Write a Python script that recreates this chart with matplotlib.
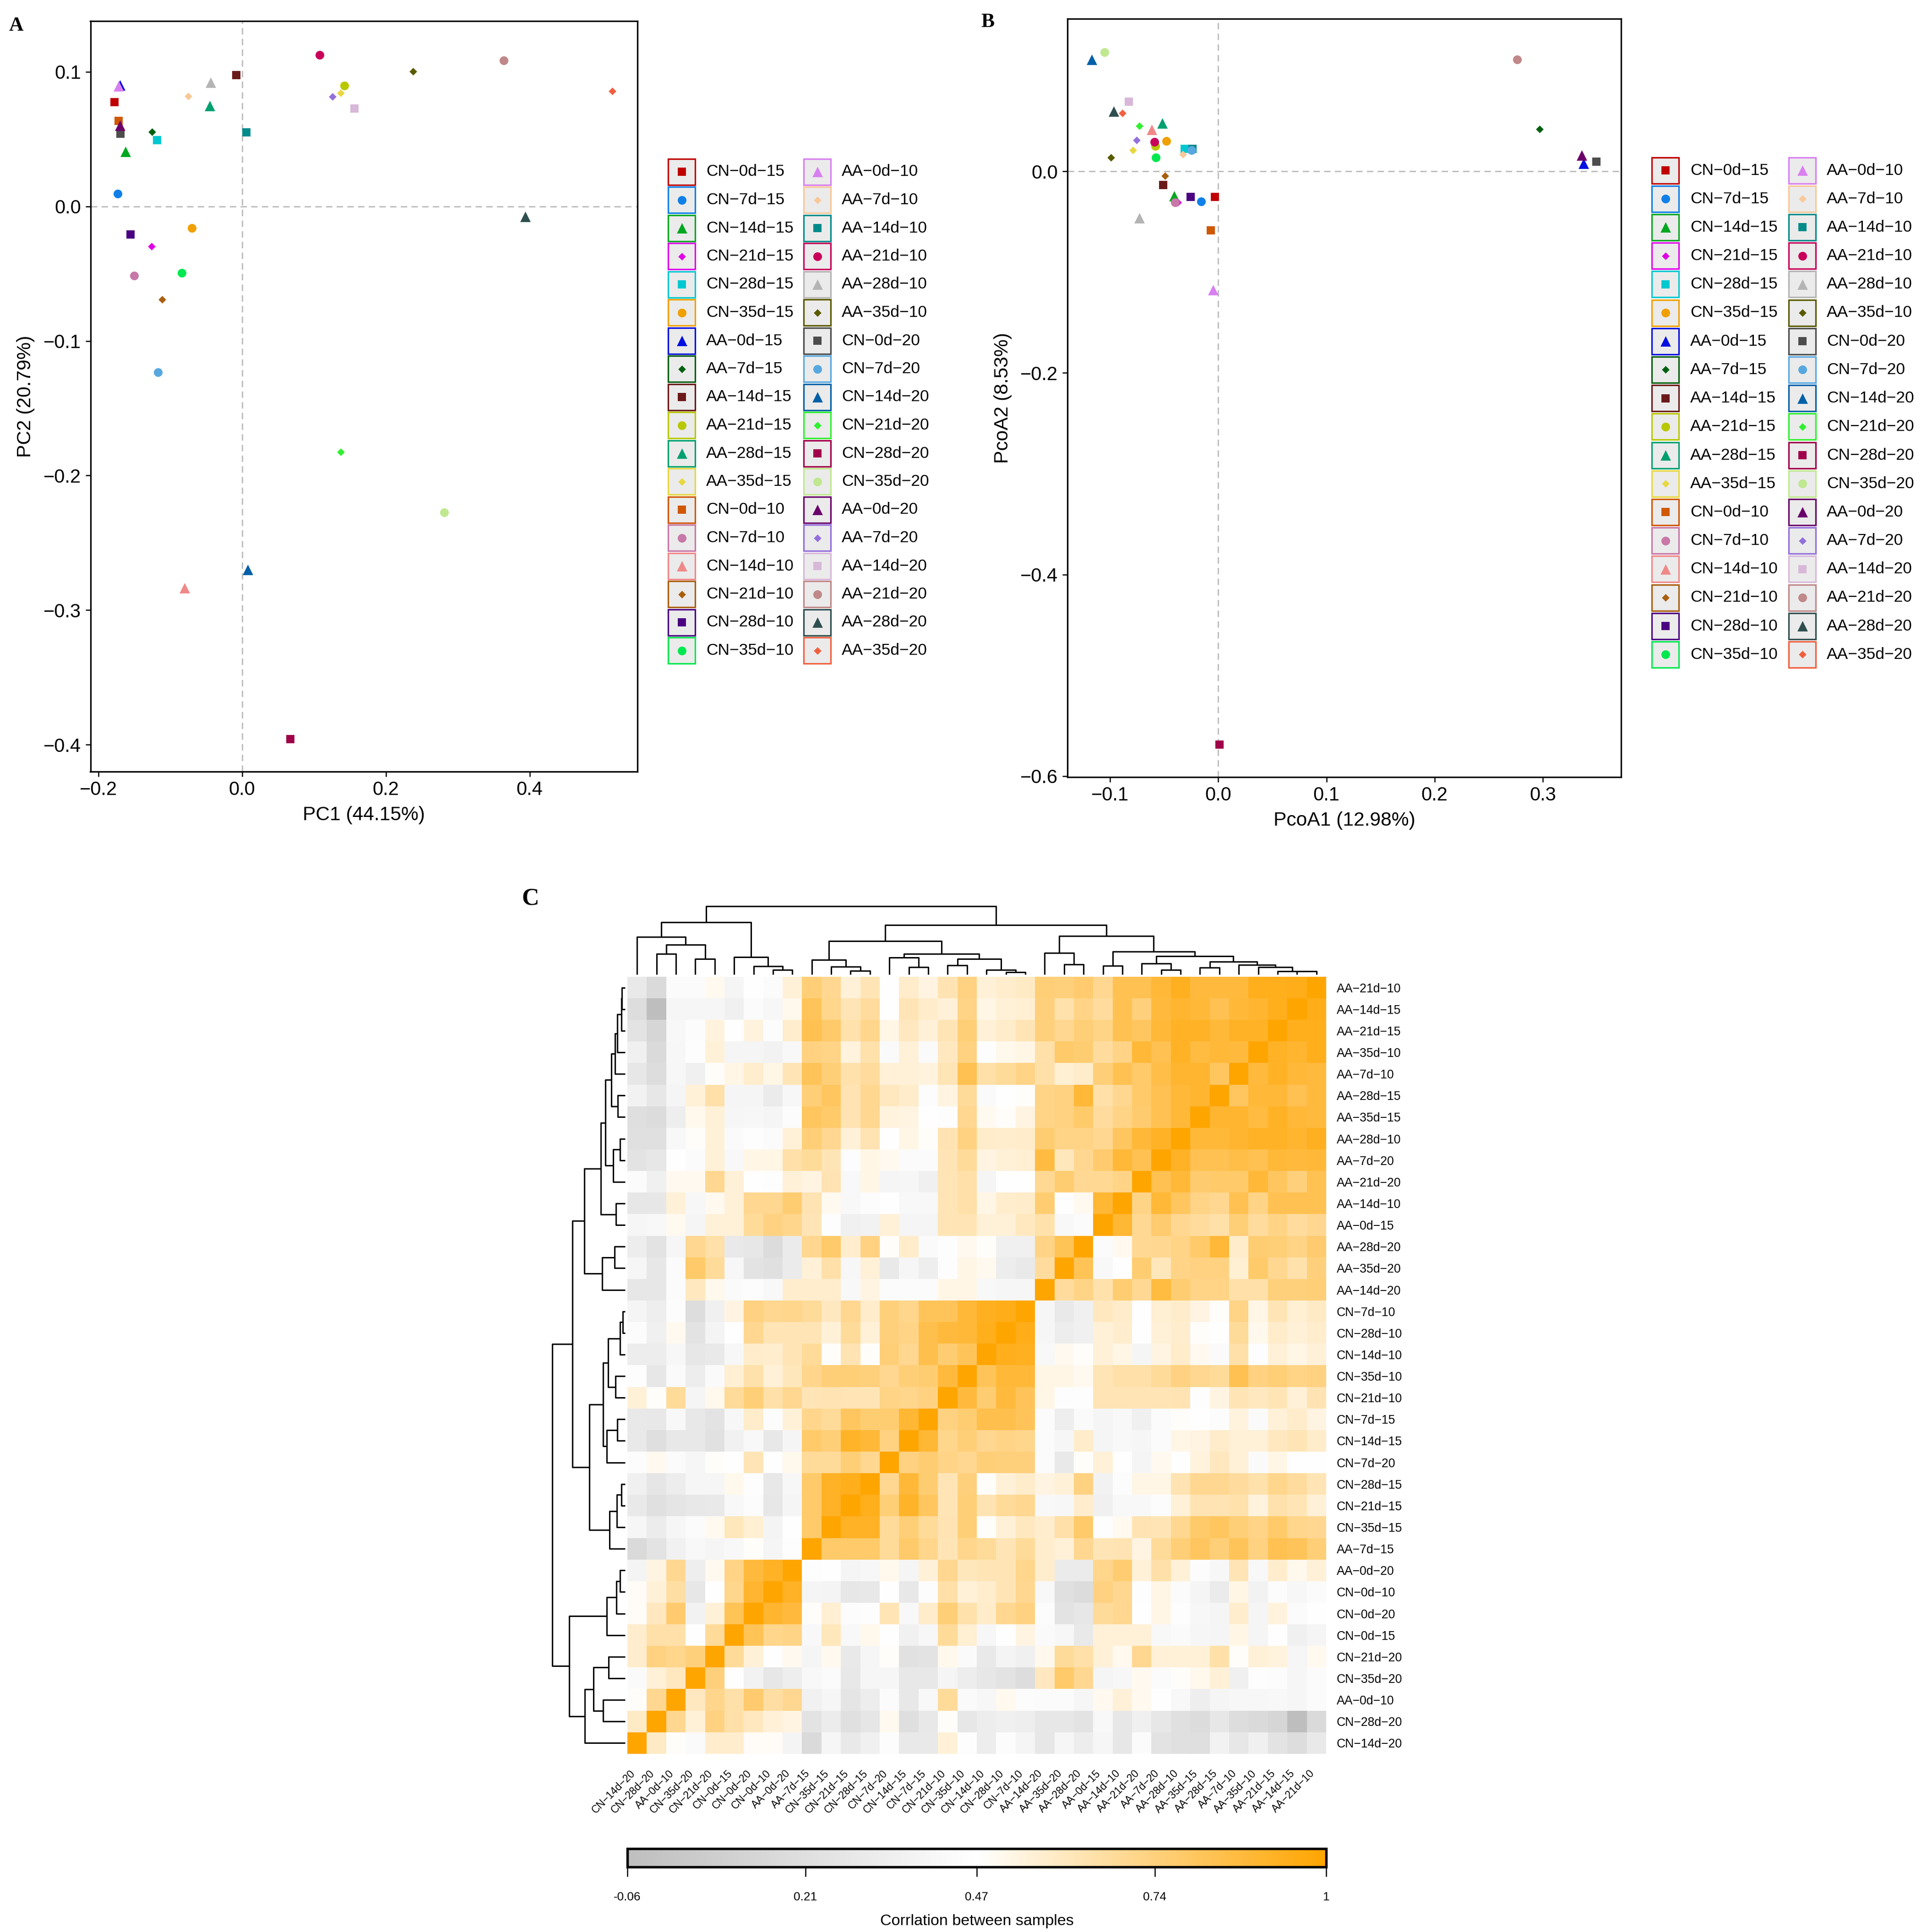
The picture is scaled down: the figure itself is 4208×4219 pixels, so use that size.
import numpy as np
import matplotlib
matplotlib.use("Agg")
import matplotlib.pyplot as plt
from matplotlib.colors import LinearSegmentedColormap, Normalize
from matplotlib.cm import ScalarMappable
from matplotlib.patches import Rectangle

plt.rcParams['font.family'] = ['Liberation Sans', 'DejaVu Sans']

# ---------------- data ----------------
samples = ['CN-0d-15', 'CN-7d-15', 'CN-14d-15', 'CN-21d-15', 'CN-28d-15', 'CN-35d-15',
           'AA-0d-15', 'AA-7d-15', 'AA-14d-15', 'AA-21d-15', 'AA-28d-15', 'AA-35d-15',
           'CN-0d-10', 'CN-7d-10', 'CN-14d-10', 'CN-21d-10', 'CN-28d-10', 'CN-35d-10',
           'AA-0d-10', 'AA-7d-10', 'AA-14d-10', 'AA-21d-10', 'AA-28d-10', 'AA-35d-10',
           'CN-0d-20', 'CN-7d-20', 'CN-14d-20', 'CN-21d-20', 'CN-28d-20', 'CN-35d-20',
           'AA-0d-20', 'AA-7d-20', 'AA-14d-20', 'AA-21d-20', 'AA-28d-20', 'AA-35d-20']

sample_colors = ['#C00000', '#1080E8', '#00A820', '#E000E8', '#00C8D0', '#F0A000',
                 '#0010E0', '#006010', '#6B1A1A', '#B8C800', '#00A070', '#E8D840',
                 '#D05800', '#C878A8', '#F08888', '#A86010', '#4B0082', '#00E850',
                 '#D880F0', '#F8C898', '#008B8B', '#C8005A', '#B4B4B4', '#5A5A00',
                 '#4D4D4D', '#58A8E0', '#0060A8', '#30F030', '#A0004A', '#C0E890',
                 '#6A006A', '#9370DB', '#D8B8D8', '#C08888', '#2F4F4F', '#F06040']

shape_cycle = ['s', 'o', '^', 'D']

pc1 = [-0.1775, -0.173, -0.162, -0.126, -0.118, -0.070,
       -0.170, -0.125, -0.008, 0.142, -0.045, 0.137,
       -0.172, -0.150, -0.080, -0.111, -0.155, -0.084,
       -0.172, -0.075, 0.006, 0.108, -0.044, 0.238,
       -0.169, -0.117, 0.008, 0.137, 0.067, 0.281,
       -0.170, 0.126, 0.156, 0.364, 0.394, 0.515]
pc2 = [0.0775, 0.0095, 0.0407, -0.0296, 0.0494, -0.0162,
       0.090, 0.0553, 0.0976, 0.0897, 0.0747, 0.0842,
       0.0636, -0.0514, -0.2834, -0.0692, -0.0209, -0.0494,
       0.0893, 0.0818, 0.0549, 0.1126, 0.0921, 0.1004,
       0.0541, -0.1233, -0.270, -0.1826, -0.396, -0.2273,
       0.060, 0.0814, 0.0727, 0.1083, -0.0075, 0.0858]

pcoa1 = [-0.003, -0.0157, -0.041, -0.0376, -0.031, -0.0482,
         0.3376, 0.2973, -0.051, -0.0584, -0.0518, -0.0788,
         -0.0071, -0.040, -0.0616, -0.0494, -0.0255, -0.0576,
         -0.0047, -0.0329, -0.0239, -0.0592, -0.0729, -0.0992,
         0.3498, -0.0247, -0.1169, -0.0729, 0.0012, -0.1051,
         0.3361, -0.0757, -0.0827, 0.2765, -0.0969, -0.0886]
pcoa2 = [-0.0253, -0.030, -0.0243, -0.031, 0.0222, 0.030,
         0.0079, 0.0417, -0.0137, 0.0248, 0.0475, 0.0211,
         -0.0586, -0.031, 0.0412, -0.0047, -0.0253, 0.0137,
         -0.1177, 0.0169, 0.0222, 0.029, -0.0464, 0.0137,
         0.0095, 0.0211, 0.1108, 0.0449, -0.5689, 0.1182,
         0.0158, 0.0311, 0.0691, 0.1108, 0.0596, 0.0575]

# heatmap: leaf order of the clustering (left->right columns, bottom->top rows)
leaf_order = ['CN-14d-20', 'CN-28d-20', 'AA-0d-10', 'CN-35d-20', 'CN-21d-20', 'CN-0d-15',
              'CN-0d-20', 'CN-0d-10', 'AA-0d-20', 'AA-7d-15', 'CN-35d-15', 'CN-21d-15',
              'CN-28d-15', 'CN-7d-20', 'CN-14d-15', 'CN-7d-15', 'CN-21d-10', 'CN-35d-10',
              'CN-14d-10', 'CN-28d-10', 'CN-7d-10', 'AA-14d-20', 'AA-35d-20', 'AA-28d-20',
              'AA-0d-15', 'AA-14d-10', 'AA-21d-20', 'AA-7d-20', 'AA-28d-10', 'AA-35d-15',
              'AA-28d-15', 'AA-7d-10', 'AA-35d-10', 'AA-21d-15', 'AA-14d-15', 'AA-21d-10']

# lower triangle of the correlation matrix (row i: correlations with leaves 0..i-1)
corr_lower = [
    [],
    [0.59],
    [0.48, 0.70],
    [0.43, 0.55, 0.60],
    [0.57, 0.73, 0.71, 0.74],
    [0.57, 0.65, 0.65, 0.47, 0.68],
    [0.49, 0.60, 0.77, 0.37, 0.55, 0.82],
    [0.49, 0.55, 0.66, 0.28, 0.47, 0.71, 0.90],
    [0.38, 0.53, 0.70, 0.34, 0.50, 0.72, 0.87, 0.92],
    [0.17, 0.25, 0.36, 0.42, 0.39, 0.42, 0.48, 0.39, 0.46],
    [0.40, 0.32, 0.40, 0.44, 0.50, 0.61, 0.56, 0.38, 0.47, 0.78],
    [0.30, 0.22, 0.26, 0.29, 0.30, 0.42, 0.45, 0.28, 0.39, 0.78, 0.92],
    [0.35, 0.27, 0.33, 0.40, 0.40, 0.51, 0.46, 0.29, 0.41, 0.78, 0.92, 0.94],
    [0.45, 0.50, 0.44, 0.40, 0.48, 0.47, 0.62, 0.47, 0.51, 0.68, 0.68, 0.75, 0.70],
    [0.30, 0.21, 0.29, 0.29, 0.23, 0.36, 0.42, 0.29, 0.39, 0.78, 0.75, 0.91, 0.88, 0.73],
    [0.30, 0.29, 0.42, 0.29, 0.25, 0.41, 0.58, 0.45, 0.55, 0.71, 0.68, 0.80, 0.76, 0.76, 0.89],
    [0.55, 0.48, 0.68, 0.39, 0.51, 0.68, 0.75, 0.65, 0.70, 0.62, 0.63, 0.62, 0.62, 0.72, 0.71, 0.73],
    [0.46, 0.28, 0.43, 0.33, 0.43, 0.56, 0.64, 0.55, 0.61, 0.71, 0.75, 0.75, 0.74, 0.70, 0.75, 0.76, 0.87],
    [0.33, 0.33, 0.41, 0.28, 0.30, 0.41, 0.58, 0.57, 0.62, 0.68, 0.48, 0.63, 0.48, 0.75, 0.70, 0.84, 0.76, 0.81],
    [0.45, 0.35, 0.50, 0.25, 0.38, 0.47, 0.70, 0.62, 0.62, 0.62, 0.55, 0.68, 0.55, 0.74, 0.72, 0.84, 0.87, 0.88,
     0.94],
    [0.39, 0.34, 0.45, 0.20, 0.35, 0.53, 0.73, 0.70, 0.71, 0.68, 0.60, 0.70, 0.58, 0.74, 0.71, 0.81, 0.81, 0.88,
     0.93, 0.95],
    [0.28, 0.28, 0.44, 0.60, 0.51, 0.43, 0.45, 0.42, 0.57, 0.57, 0.57, 0.42, 0.53, 0.44, 0.44, 0.44, 0.52, 0.52,
     0.42, 0.40, 0.40],
    [0.40, 0.28, 0.44, 0.78, 0.68, 0.41, 0.25, 0.22, 0.31, 0.55, 0.65, 0.41, 0.55, 0.30, 0.40, 0.34, 0.46, 0.52,
     0.50, 0.33, 0.30, 0.67],
    [0.33, 0.25, 0.40, 0.70, 0.65, 0.30, 0.28, 0.19, 0.31, 0.70, 0.78, 0.57, 0.73, 0.48, 0.58, 0.43, 0.46, 0.50,
     0.48, 0.35, 0.35, 0.72, 0.82],
    [0.40, 0.42, 0.50, 0.39, 0.55, 0.55, 0.68, 0.73, 0.71, 0.62, 0.46, 0.35, 0.37, 0.55, 0.39, 0.39, 0.62, 0.62,
     0.55, 0.55, 0.60, 0.64, 0.42, 0.44],
    [0.28, 0.28, 0.55, 0.41, 0.50, 0.55, 0.70, 0.70, 0.76, 0.63, 0.50, 0.42, 0.45, 0.47, 0.42, 0.42, 0.62, 0.65,
     0.52, 0.57, 0.58, 0.76, 0.47, 0.50, 0.89],
    [0.44, 0.35, 0.50, 0.50, 0.70, 0.55, 0.47, 0.46, 0.55, 0.53, 0.63, 0.42, 0.52, 0.39, 0.40, 0.35, 0.62, 0.65,
     0.39, 0.47, 0.47, 0.69, 0.76, 0.69, 0.69, 0.72],
    [0.25, 0.28, 0.47, 0.44, 0.55, 0.42, 0.52, 0.52, 0.65, 0.68, 0.62, 0.45, 0.52, 0.50, 0.44, 0.44, 0.62, 0.68,
     0.53, 0.55, 0.56, 0.86, 0.61, 0.70, 0.77, 0.88, 0.83],
    [0.22, 0.22, 0.42, 0.48, 0.55, 0.43, 0.46, 0.44, 0.55, 0.75, 0.70, 0.55, 0.63, 0.47, 0.52, 0.48, 0.63, 0.73,
     0.58, 0.57, 0.58, 0.76, 0.72, 0.72, 0.70, 0.80, 0.88, 0.92],
    [0.21, 0.19, 0.34, 0.51, 0.55, 0.40, 0.41, 0.39, 0.45, 0.80, 0.78, 0.63, 0.70, 0.54, 0.53, 0.47, 0.46, 0.70,
     0.50, 0.48, 0.53, 0.72, 0.73, 0.78, 0.67, 0.72, 0.77, 0.83, 0.88],
    [0.37, 0.28, 0.39, 0.55, 0.65, 0.39, 0.39, 0.31, 0.41, 0.75, 0.80, 0.63, 0.70, 0.60, 0.58, 0.45, 0.53, 0.68,
     0.43, 0.47, 0.48, 0.72, 0.73, 0.88, 0.65, 0.70, 0.78, 0.83, 0.88, 0.90],
    [0.28, 0.20, 0.41, 0.35, 0.48, 0.52, 0.57, 0.52, 0.62, 0.81, 0.75, 0.64, 0.67, 0.55, 0.55, 0.54, 0.62, 0.83,
     0.65, 0.68, 0.72, 0.65, 0.56, 0.58, 0.75, 0.83, 0.78, 0.85, 0.90, 0.90, 0.80],
    [0.35, 0.17, 0.41, 0.46, 0.55, 0.39, 0.39, 0.37, 0.42, 0.73, 0.72, 0.54, 0.64, 0.43, 0.55, 0.43, 0.60, 0.73,
     0.46, 0.51, 0.52, 0.65, 0.78, 0.76, 0.67, 0.72, 0.88, 0.83, 0.92, 0.86, 0.88, 0.87],
    [0.25, 0.14, 0.42, 0.45, 0.54, 0.47, 0.54, 0.45, 0.57, 0.83, 0.78, 0.64, 0.71, 0.52, 0.60, 0.55, 0.62, 0.75,
     0.55, 0.58, 0.62, 0.74, 0.70, 0.75, 0.72, 0.83, 0.80, 0.88, 0.92, 0.92, 0.88, 0.92, 0.92],
    [0.20, -0.06, 0.40, 0.40, 0.40, 0.35, 0.44, 0.41, 0.51, 0.81, 0.71, 0.62, 0.67, 0.47, 0.62, 0.58, 0.55, 0.72,
     0.52, 0.55, 0.56, 0.74, 0.64, 0.72, 0.67, 0.83, 0.74, 0.87, 0.90, 0.88, 0.83, 0.88, 0.90, 0.94],
    [0.30, 0.17, 0.44, 0.44, 0.50, 0.39, 0.47, 0.44, 0.55, 0.75, 0.70, 0.55, 0.62, 0.47, 0.58, 0.53, 0.63, 0.73,
     0.55, 0.57, 0.59, 0.75, 0.74, 0.77, 0.70, 0.83, 0.83, 0.88, 0.93, 0.87, 0.87, 0.87, 0.94, 0.94, 0.95],
]

# hierarchical merges (child a, child b, height); ids >= 36 are earlier merges
merges = [(1, 2, 135), (3, 4, 102), (36, 37, 195), (0, 38, 247), (7, 8, 30), (6, 40, 53),
          (5, 41, 114), (39, 42, 343), (11, 12, 23), (10, 44, 52), (9, 45, 95), (14, 15, 49),
          (13, 47, 112), (16, 17, 60), (19, 20, 14), (18, 50, 30), (49, 51, 103), (48, 52, 135),
          (46, 53, 220), (22, 23, 66), (21, 55, 142), (24, 25, 57), (27, 28, 30), (26, 58, 72),
          (29, 30, 45), (34, 35, 20), (33, 61, 22), (32, 62, 47), (31, 63, 62), (60, 64, 85),
          (59, 65, 120), (57, 66, 150), (56, 67, 252), (54, 68, 325), (43, 69, 448)]

cbar_ticks = [-0.06, 0.21, 0.47, 0.74, 1.0]
cbar_ticklabels = ['-0.06', '0.21', '0.47', '0.74', '1']

# ---------------- figure ----------------
W, H = 4208, 4219
DPI = 300
fig = plt.figure(figsize=(W / DPI, H / DPI), dpi=DPI, facecolor='white')


def px_axes(x0, y0, x1, y1):
    return fig.add_axes([x0 / W, 1 - y1 / H, (x1 - x0) / W, (y1 - y0) / H])


def disp(s):
    return s.replace('-', '\u2212')


msize = {'s': 18, 'o': 21, '^': 30, 'D': 8}


def fmt(v):
    s = '%.1f' % v
    return s.replace('-', '\u2212')


def scatter_panel(box, xs, ys, xlim, ylim, xticks, yticks, xlabel, ylabel, ylabpad):
    ax = px_axes(*box)
    dash = dict(color='#BDBDBD', lw=0.7, dashes=(4.8, 3.2), zorder=1)
    ax.axhline(0, **dash)
    ax.axvline(0, **dash)
    for i in range(len(samples)):
        m = shape_cycle[i % 4]
        ax.scatter(xs[i], ys[i], marker=m, s=msize[m], color=sample_colors[i],
                   linewidths=0, zorder=3)
    ax.set_xlim(xlim)
    ax.set_ylim(ylim)
    ax.set_xticks(xticks)
    ax.set_xticklabels([fmt(v) for v in xticks])
    ax.set_yticks(yticks)
    ax.set_yticklabels([fmt(v) for v in yticks])
    for s in ax.spines.values():
        s.set_linewidth(0.8)
    ax.tick_params(direction='out', length=2.7, width=0.6, labelsize=10,
                   pad=2.2, colors='black')
    ax.set_xlabel(xlabel, fontsize=10.2, labelpad=3.5)
    ax.set_ylabel(ylabel, fontsize=10.2, labelpad=ylabpad)
    return ax


scatter_panel((197.5, 46, 1392, 1685), pc1, pc2, (-0.211, 0.550), (-0.420, 0.1377),
              [-0.2, 0.0, 0.2, 0.4], [-0.4, -0.3, -0.2, -0.1, 0.0, 0.1],
              'PC1 (44.15%)', 'PC2 (20.79%)', 4.5)
scatter_panel((2331, 41, 3540, 1697), pcoa1, pcoa2, (-0.1395, 0.3725), (-0.601, 0.1513),
              [-0.1, 0.0, 0.1, 0.2, 0.3], [-0.6, -0.4, -0.2, 0.0],
              'PcoA1 (12.98%)', 'PcoA2 (8.53%)', 4.5)

# ---------------- heatmap ----------------
n = len(leaf_order)
C = np.eye(n)
for i, row in enumerate(corr_lower):
    for j, v in enumerate(row):
        C[i, j] = v
        C[j, i] = v

cmap = LinearSegmentedColormap.from_list('gwo', ['#BEBEBE', '#FFFFFF', '#FFA500'])
norm = Normalize(vmin=-0.06, vmax=1.0)

HX0, HX1, HY0, HY1 = 1370, 2896, 2133, 3830
ax_hm = px_axes(HX0, HY0, HX1, HY1)
ax_hm.imshow(C[::-1, :], cmap=cmap, norm=norm, aspect='auto', interpolation='nearest',
             extent=(0, n, n, 0))
ax_hm.set_xlim(0, n)
ax_hm.set_ylim(n, 0)
for s in ax_hm.spines.values():
    s.set_visible(False)
ax_hm.yaxis.tick_right()
ax_hm.set_yticks(np.arange(n) + 0.5)
ax_hm.set_yticklabels([disp(s) for s in leaf_order[::-1]], fontsize=6.4)
ax_hm.set_xticks(np.arange(n) + 0.5)
ax_hm.set_xticklabels([disp(s) for s in leaf_order], fontsize=5.5, rotation=45,
                      ha='right', va='top')
ax_hm.tick_params(axis='y', length=0, pad=5.5)
ax_hm.tick_params(axis='x', length=0, pad=7.5)

# dendrogram segments
pos = {i: i + 0.5 for i in range(n)}
hgt = {i: 0.0 for i in range(n)}
segments = []
for k, (a, b, h) in enumerate(merges):
    segments.append(([pos[a], pos[a], pos[b], pos[b]], [hgt[a], h, h, hgt[b]]))
    pos[n + k] = (pos[a] + pos[b]) / 2
    hgt[n + k] = h
hmax = max(m[2] for m in merges)

ax_top = px_axes(HX0, 1979, HX1, 2128)
for xs, hs in segments:
    ax_top.plot(xs, hs, color='black', lw=0.75, clip_on=False, solid_capstyle='butt')
ax_top.set_xlim(0, n)
ax_top.set_ylim(0, hmax)
ax_top.axis('off')

ax_left = px_axes(1206, HY0, 1365, HY1)
for xs, hs in segments:
    ax_left.plot(hs, [n - x for x in xs], color='black', lw=0.75, clip_on=False,
                 solid_capstyle='butt')
ax_left.set_xlim(hmax, 0)
ax_left.set_ylim(n, 0)
ax_left.axis('off')

# colour bar
cax = px_axes(HX0, 4037, HX1, 4077)
cb = fig.colorbar(ScalarMappable(norm=norm, cmap=cmap), cax=cax, orientation='horizontal',
                  ticks=cbar_ticks)
cb.set_ticklabels(cbar_ticklabels)
cb.outline.set_linewidth(1.3)
cax.tick_params(direction='out', length=5, width=0.6, labelsize=6.3, pad=8)
cax.set_xlabel('Corrlation between samples', fontsize=8.2, labelpad=6)

# ---------------- legends (ggplot-style keys) ----------------
ov = fig.add_axes([0, 0, 1, 1])
ov.set_xlim(0, W)
ov.set_ylim(H, 0)
ov.axis('off')


def draw_legend(key_x, txt_x, y0, pitch, kw=59, kh=57, per_col=18):
    for i, name in enumerate(samples):
        col, row = divmod(i, per_col)
        cy = y0 + row * pitch
        kx = key_x[col]
        ov.add_patch(Rectangle((kx, cy - kh / 2), kw, kh, facecolor='#EBEBEB',
                               edgecolor=sample_colors[i], lw=0.8))
        m = shape_cycle[i % 4]
        ov.scatter([kx + kw / 2], [cy], marker=m, s=msize[m], color=sample_colors[i],
                   linewidths=0, zorder=3)
        ov.text(txt_x[col], cy, disp(name), fontsize=8.5, ha='left', va='center')


draw_legend((1459, 1755), (1542, 1838), 375, 61.5)
draw_legend((3607, 3906), (3691, 3989), 372, 62.2)

# panel letters
for lab, x, y, fs in [('A', 20, 56, 10.5), ('B', 2142, 48, 10.5), ('C', 1140, 1962, 12.5)]:
    fig.text(x / W, 1 - y / H, lab, fontsize=fs, fontweight='bold',
             family=['Liberation Serif', 'DejaVu Serif'], ha='left', va='center')

fig.savefig('out.png', dpi=DPI, facecolor='white')
